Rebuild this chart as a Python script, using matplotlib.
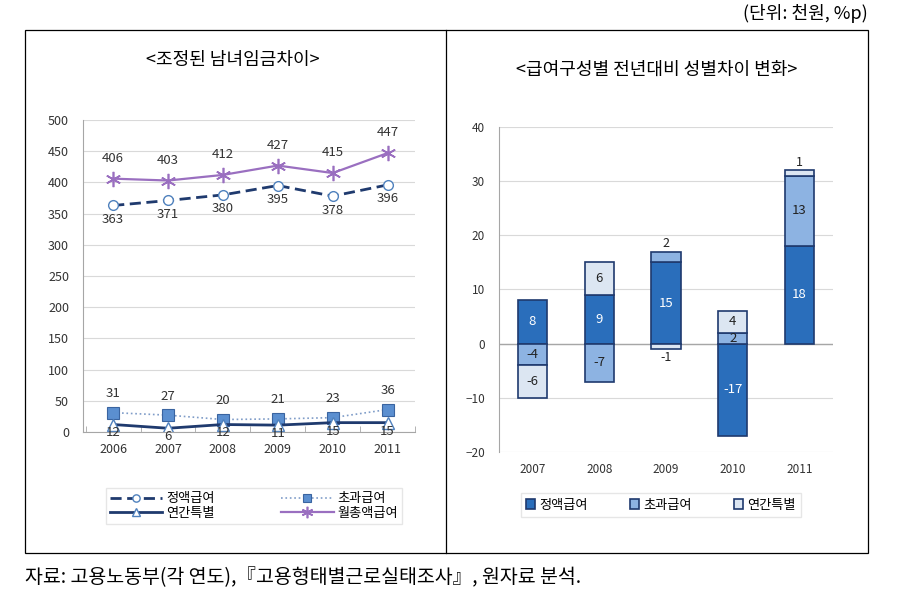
import numpy as np
import matplotlib
matplotlib.use('Agg')
from matplotlib import pyplot as plt
from matplotlib.patches import Rectangle
from matplotlib.lines import Line2D

plt.rcParams['font.family'] = ['Noto Sans CJK KR', 'DejaVu Sans']

# left chart data
years = ['2006', '2007', '2008', '2009', '2010', '2011']
base_pay = [363, 371, 380, 395, 378, 396]
overtime = [31, 27, 20, 21, 23, 36]
bonus = [12, 6, 12, 11, 15, 15]
total_pay = [406, 403, 412, 427, 415, 447]

# right chart data
years2 = ['2007', '2008', '2009', '2010', '2011']
d_base = [8, 9, 15, -17, 18]
d_over = [-4, -7, 2, 2, 13]
d_bonus = [-6, 6, -1, 4, 1]

navy = '#1F3A6E'
grid = '#D9D9D9'
tick_c = '#333333'

fig = plt.figure(figsize=(9.03, 6), dpi=100)

# outer frame and divider
fig.patches.append(Rectangle((25/903, 1-553/600), 843/903, 523/600, transform=fig.transFigure,
                             fill=False, ec='black', lw=0.9))
fig.add_artist(Line2D([446/903, 446/903], [1-30/600, 1-553/600], transform=fig.transFigure,
                      color='black', lw=0.9))

fig.text(868/903, 1-13/600, '(단위: 천원, %p)', ha='right', va='center', fontsize=13)
fig.text(233/903, 1-60/600, '<조정된 남녀임금차이>', ha='center', va='center', fontsize=13)
fig.text(657/903, 1-70/600, '<급여구성별 전년대비 성별차이 변화>', ha='center', va='center', fontsize=13)
fig.text(25/903, 1-578/600, '자료: 고용노동부(각 연도),『고용형태별근로실태조사』, 원자료 분석.',
         ha='left', va='center', fontsize=14)

# ---- left line chart
ax1 = fig.add_axes([83/903, 1-432/600, 332/903, 312/600])
x = np.arange(len(years))
l1, = ax1.plot(x, base_pay, ls=(0, (4, 2)), color=navy, lw=2, marker='o', ms=7,
               mfc='white', mec='#4F81BD', mew=1)
l2, = ax1.plot(x, overtime, ls=':', color='#7F9CC8', lw=1.2, marker='s', ms=8,
               mfc='#5B8FD0', mec='#3A64A0', mew=0.8)
l3, = ax1.plot(x, bonus, ls='-', color=navy, lw=2, marker='^', ms=8,
               mfc='white', mec='#4F81BD', mew=1)
l4, = ax1.plot(x, total_pay, ls='-', color='#9A6FC0', lw=1.6, marker=(6, 2, 0), ms=11,
               mec='#9A6FC0', mew=1.2)

for i in range(len(years)):
    ax1.text(x[i], total_pay[i] + 22, str(total_pay[i]), ha='center', va='bottom', fontsize=9.5, color=tick_c)
    ax1.text(x[i], base_pay[i] - 12, str(base_pay[i]), ha='center', va='top', fontsize=9.5, color=tick_c)
    ax1.text(x[i], overtime[i] + 20, str(overtime[i]), ha='center', va='bottom', fontsize=9.5, color=tick_c)
    ax1.text(x[i], bonus[i] - 3, str(bonus[i]), ha='center', va='top', fontsize=9.5, color=tick_c)

ax1.set_xlim(-0.55, 5.5)
ax1.set_ylim(0, 500)
ax1.set_yticks(range(0, 501, 50))
ax1.set_xticks(x)
ax1.set_xticklabels(years)
ax1.set_xticks(np.arange(-0.5, 5.6, 1), minor=True)
ax1.tick_params(axis='x', which='major', length=0, pad=8, labelsize=9, labelcolor=tick_c)
ax1.tick_params(axis='x', which='minor', length=4, direction='in', color='#A6A6A6')
ax1.tick_params(axis='y', length=0, labelsize=9, labelcolor=tick_c, pad=10)
ax1.grid(axis='y', color=grid, lw=0.8)
ax1.set_axisbelow(True)
for s in ['top', 'right']:
    ax1.spines[s].set_visible(False)
ax1.spines['left'].set_color('#A6A6A6')
ax1.spines['bottom'].set_color('#A6A6A6')

fig.legend([l1, l3, l2, l4], ['정액급여', '연간특별', '초과급여', '월총액급여'],
           loc='center', bbox_to_anchor=(254/903, 1-506/600), ncol=2, fontsize=9.5,
           frameon=True, fancybox=False, edgecolor='#E0E0E0', handlelength=4, markerscale=0.75,
           columnspacing=5, labelspacing=0.1, borderpad=0.3, handletextpad=0.3)

# ---- right stacked bar chart
ax2 = fig.add_axes([499/903, 1-452/600, 334/903, 325/600])
x2 = np.arange(len(years2))
w = 0.44
cols = ['#2A6EBB', '#8DB3E2', '#DCE6F2']
series = [np.array(d_base, float), np.array(d_over, float), np.array(d_bonus, float)]
names = ['정액급여', '초과급여', '연간특별']
pos_bottom = np.zeros(len(x2))
neg_bottom = np.zeros(len(x2))
handles = []
for k, vals in enumerate(series):
    bottoms = np.where(vals >= 0, pos_bottom, neg_bottom)
    b = ax2.bar(x2, vals, w, bottom=bottoms, color=cols[k], edgecolor=navy, lw=1.2, zorder=3)
    handles.append(b)
    for i, v in enumerate(vals):
        c = 'white' if k == 0 else '#222222'
        # is this the outermost segment on its side?
        later = [s[i] for s in series[k+1:]]
        outer = all((lv < 0) if v >= 0 else (lv >= 0) for lv in later)
        if abs(v) >= 3 or not outer:
            ax2.text(x2[i], bottoms[i] + v / 2, '%d' % v, ha='center', va='center', fontsize=9.5, color=c, zorder=4)
        elif v > 0:
            ax2.text(x2[i], bottoms[i] + v + 0.3, '%d' % v, ha='center', va='bottom', fontsize=9, color='#222222', zorder=4)
        else:
            ax2.text(x2[i], bottoms[i] + v - 0.3, '%d' % v, ha='center', va='top', fontsize=9, color='#222222', zorder=4)
    pos_bottom = pos_bottom + np.where(vals >= 0, vals, 0)
    neg_bottom = neg_bottom + np.where(vals < 0, vals, 0)

ax2.set_xlim(-0.5, 4.5)
ax2.set_ylim(-20, 40)
ax2.set_yticks(range(-20, 41, 10))
ax2.set_xticks(x2)
ax2.set_xticklabels(years2)
ax2.tick_params(axis='x', length=0, labelsize=8.5, labelcolor=tick_c, pad=8)
ax2.tick_params(axis='y', length=0, labelsize=8.5, labelcolor=tick_c, pad=10)
ax2.grid(axis='y', color=grid, lw=0.8, zorder=0)
ax2.axhline(0, color='#A6A6A6', lw=1, zorder=2)
for s in ['top', 'right', 'bottom']:
    ax2.spines[s].set_visible(False)
ax2.spines['left'].set_color('#A6A6A6')

fig.legend(handles, names, loc='center', bbox_to_anchor=(661/903, 1-505/600), ncol=3, fontsize=9.5,
           frameon=True, fancybox=False, edgecolor='#E0E0E0', handlelength=0.7, handleheight=0.7,
           columnspacing=3.2, borderpad=0.4, handletextpad=0.3)

fig.savefig('out.png', dpi=100)
